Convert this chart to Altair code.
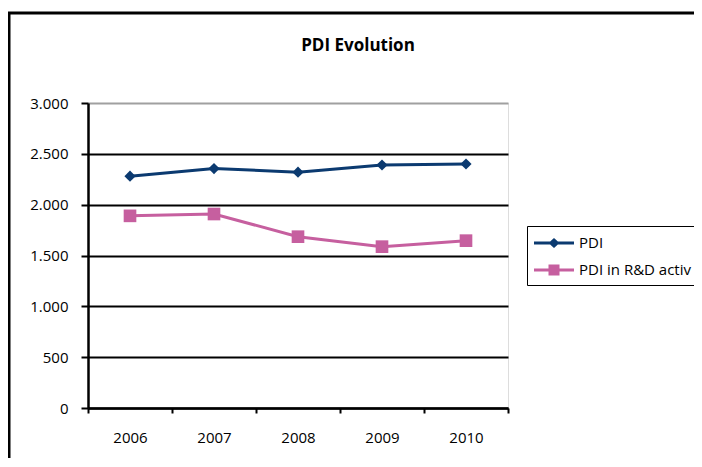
import altair as alt
import pandas as pd

years = ["2006", "2007", "2008", "2009", "2010"]
series_names = ["PDI", "PDI in R&D activ"]
pdi = [2280, 2355, 2320, 2390, 2400]
pdi_rd = [1890, 1908, 1685, 1587, 1646]
y_ticks = [0, 500, 1000, 1500, 2000, 2500, 3000]
colors = ["#0b3a70", "#c65f9f"]
title_text = "PDI Evolution"

rows = []
for yr, v in zip(years, pdi):
    rows.append({"year": yr, "series": series_names[0], "value": v})
for yr, v in zip(years, pdi_rd):
    rows.append({"year": yr, "series": series_names[1], "value": v})
df = pd.DataFrame(rows)

FONT = "Open Sans"

x_enc = alt.X(
    "year:N",
    sort=years,
    bandPosition=0.5,
    scale=alt.Scale(type="band", paddingInner=0, paddingOuter=0),
    axis=alt.Axis(
        title=None, labelAngle=0, tickBand="extent", tickSize=5, tickWidth=2,
        tickColor="black", domainColor="black", domainWidth=2.5,
        labelFont=FONT, labelFontSize=15, labelColor="black", labelPadding=17,
        grid=False,
    ),
)
y_enc = alt.Y(
    "value:Q",
    scale=alt.Scale(domain=[0, 3000], nice=False),
    axis=alt.Axis(
        title=None, values=y_ticks,
        labelExpr="replace(format(datum.value, ','), ',', '.')",
        tickSize=7, tickWidth=2, tickColor="black",
        domainColor="black", domainWidth=2.5,
        labelFont=FONT, labelFontSize=15, labelColor="black", labelPadding=13,
        grid=True, gridWidth=2,
        gridColor={"condition": {"test": "datum.value === 3000", "value": "#a0a0a0"}, "value": "black"},
    ),
)

base = alt.Chart(df)

lines = base.mark_line(strokeWidth=3).encode(
    x=x_enc, y=y_enc, detail="series:N",
    color=alt.condition(alt.datum.series == series_names[0],
                        alt.value(colors[0]), alt.value(colors[1])),
)
diamonds = base.transform_filter(alt.datum.series == series_names[0]).mark_point(
    shape="diamond", filled=True, size=125, opacity=1, color=colors[0]
).encode(x=x_enc, y=y_enc)
squares = base.transform_filter(alt.datum.series == series_names[1]).mark_point(
    shape="square", filled=True, size=160, opacity=1, color=colors[1]
).encode(x=x_enc, y=y_enc)

legend_paths = [
    "M-1,-0.15H3V0.15H-1Z M1,-0.5L1.55,0L1,0.5L0.45,0Z",
    "M-1,-0.15H3V0.15H-1Z M0.45,-0.55H1.55V0.55H0.45Z",
]
leg = alt.Legend(
    title=None, orient="none", legendX=439, legendY=123,
    strokeColor="black", fillColor="white", padding=7, symbolSize=400,
    labelOffset=25, labelFont=FONT, labelFontSize=15, labelColor="black",
    rowPadding=9, symbolStrokeWidth=0, labelLimit=300,
)
# legend-only layer: its marks are pushed outside the plot and clipped away
legend_layer = base.mark_point(filled=True, opacity=1, clip=True).encode(
    x=x_enc, y=alt.value(-400),
    color=alt.Color("series:N", scale=alt.Scale(domain=series_names, range=colors), legend=leg),
    shape=alt.Shape("series:N", scale=alt.Scale(domain=series_names, range=legend_paths), legend=leg),
)

frame_data = alt.Data(values=[{"k": 1}])
top_border = alt.Chart(frame_data).mark_rule(color="black", strokeWidth=3).encode(
    x=alt.value(-80), x2=alt.value(606), y=alt.value(-90)
)
left_border = alt.Chart(frame_data).mark_rule(color="black", strokeWidth=3).encode(
    x=alt.value(-79), y=alt.value(-91), y2=alt.value(360)
)
title_mark = alt.Chart(frame_data).mark_text(
    text=title_text, font=FONT, fontSize=17, fontWeight="bold", color="black",
    align="center", baseline="alphabetic",
).encode(x=alt.value(270), y=alt.value(-52))

chart = alt.layer(
    top_border, left_border, title_mark, lines, diamonds, squares, legend_layer
).properties(
    width=420,
    height=305,
    autosize=alt.AutoSizeParams(type="none"),
    padding={"left": 80, "top": 95, "right": 186, "bottom": 50},
).configure_view(
    stroke="#a0a0a0", strokeWidth=2.5
).configure_legend(
    strokeWidth=2,
).configure(background="white")

chart.save("out.html", embed_options={"renderer": "svg", "actions": False})
